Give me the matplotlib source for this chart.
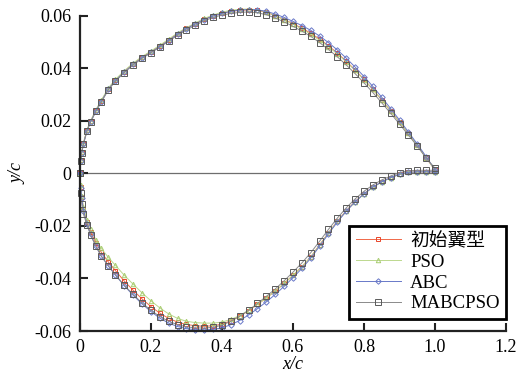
import matplotlib
matplotlib.use("Agg")
import matplotlib.pyplot as plt
import numpy as np

# 弦向站位 x/c
X = [0.000, 0.002, 0.005, 0.010, 0.020, 0.030, 0.045, 0.060, 0.080, 0.100,
     0.125, 0.150, 0.175, 0.200, 0.225, 0.250, 0.275, 0.300, 0.325, 0.350,
     0.375, 0.400, 0.425, 0.450, 0.475, 0.500, 0.525, 0.550, 0.575, 0.600,
     0.625, 0.650, 0.675, 0.700, 0.725, 0.750, 0.775, 0.800, 0.825, 0.850,
     0.875, 0.900, 0.925, 0.950, 0.975, 1.000]

# 上表面 y/c
UP_INIT = [0.0000, 0.0050, 0.0080, 0.0115, 0.0165, 0.0198, 0.0240, 0.0275, 0.0322, 0.0355,
           0.0388, 0.0417, 0.0442, 0.0463, 0.0485, 0.0508, 0.0532, 0.0552, 0.0570, 0.0587,
           0.0600, 0.0610, 0.0617, 0.0621, 0.0623, 0.0621, 0.0613, 0.0601, 0.0586, 0.0570,
           0.0553, 0.0534, 0.0511, 0.0486, 0.0458, 0.0427, 0.0394, 0.0358, 0.0320, 0.0280,
           0.0238, 0.0196, 0.0152, 0.0108, 0.0060, 0.0012]
UP_PSO = [0.0000, 0.0052, 0.0082, 0.0117, 0.0167, 0.0200, 0.0243, 0.0278, 0.0325, 0.0358,
          0.0391, 0.0420, 0.0445, 0.0466, 0.0488, 0.0511, 0.0535, 0.0555, 0.0573, 0.0590,
          0.0603, 0.0614, 0.0621, 0.0625, 0.0626, 0.0623, 0.0614, 0.0601, 0.0585, 0.0568,
          0.0550, 0.0530, 0.0507, 0.0482, 0.0455, 0.0425, 0.0392, 0.0357, 0.0320, 0.0280,
          0.0238, 0.0196, 0.0152, 0.0108, 0.0060, 0.0012]
UP_ABC = [0.0000, 0.0048, 0.0078, 0.0113, 0.0163, 0.0196, 0.0238, 0.0273, 0.0320, 0.0353,
          0.0386, 0.0415, 0.0440, 0.0461, 0.0483, 0.0506, 0.0530, 0.0551, 0.0569, 0.0586,
          0.0599, 0.0609, 0.0617, 0.0622, 0.0624, 0.0623, 0.0617, 0.0607, 0.0594, 0.0579,
          0.0563, 0.0545, 0.0523, 0.0498, 0.0470, 0.0439, 0.0405, 0.0369, 0.0331, 0.0290,
          0.0247, 0.0203, 0.0158, 0.0112, 0.0064, 0.0014]
UP_MABCPSO = [0.0000, 0.0048, 0.0078, 0.0112, 0.0162, 0.0195, 0.0236, 0.0271, 0.0318, 0.0351,
              0.0384, 0.0413, 0.0438, 0.0459, 0.0481, 0.0503, 0.0526, 0.0546, 0.0564, 0.0581,
              0.0594, 0.0603, 0.0609, 0.0613, 0.0615, 0.0612, 0.0604, 0.0592, 0.0577, 0.0560,
              0.0542, 0.0522, 0.0498, 0.0472, 0.0444, 0.0413, 0.0380, 0.0345, 0.0308, 0.0269,
              0.0229, 0.0188, 0.0146, 0.0104, 0.0058, 0.0020]

# 下表面 y/c
LO_INIT = [0.0000, -0.0050, -0.0090, -0.0135, -0.0185, -0.0222, -0.0265, -0.0300, -0.0337, -0.0370,
           -0.0410, -0.0445, -0.0478, -0.0507, -0.0532, -0.0552, -0.0566, -0.0575, -0.0580, -0.0582,
           -0.0580, -0.0574, -0.0561, -0.0544, -0.0523, -0.0499, -0.0474, -0.0448, -0.0419, -0.0388,
           -0.0355, -0.0318, -0.0272, -0.0226, -0.0182, -0.0142, -0.0107, -0.0077, -0.0052, -0.0032,
           -0.0016, -0.0003, 0.0004, 0.0006, 0.0006, 0.0006]
LO_PSO = [0.0000, -0.0045, -0.0085, -0.0128, -0.0178, -0.0213, -0.0253, -0.0285, -0.0320, -0.0350,
          -0.0388, -0.0422, -0.0455, -0.0485, -0.0512, -0.0535, -0.0552, -0.0563, -0.0568, -0.0570,
          -0.0570, -0.0566, -0.0556, -0.0541, -0.0521, -0.0498, -0.0474, -0.0448, -0.0419, -0.0388,
          -0.0355, -0.0318, -0.0273, -0.0227, -0.0183, -0.0143, -0.0108, -0.0078, -0.0053, -0.0033,
          -0.0017, -0.0004, 0.0004, 0.0006, 0.0006, 0.0006]
LO_ABC = [0.0000, -0.0055, -0.0095, -0.0142, -0.0193, -0.0232, -0.0277, -0.0314, -0.0352, -0.0387,
          -0.0428, -0.0464, -0.0497, -0.0526, -0.0551, -0.0570, -0.0583, -0.0591, -0.0595, -0.0596,
          -0.0594, -0.0588, -0.0576, -0.0560, -0.0539, -0.0515, -0.0489, -0.0461, -0.0430, -0.0397,
          -0.0362, -0.0323, -0.0277, -0.0230, -0.0185, -0.0144, -0.0108, -0.0078, -0.0052, -0.0032,
          -0.0016, -0.0003, 0.0004, 0.0006, 0.0006, 0.0006]
LO_MABCPSO = [0.0000, -0.0075, -0.0115, -0.0155, -0.0197, -0.0234, -0.0278, -0.0315, -0.0352, -0.0386,
              -0.0426, -0.0461, -0.0493, -0.0521, -0.0545, -0.0563, -0.0576, -0.0584, -0.0588, -0.0589,
              -0.0586, -0.0578, -0.0563, -0.0544, -0.0521, -0.0495, -0.0468, -0.0440, -0.0409, -0.0376,
              -0.0341, -0.0302, -0.0258, -0.0213, -0.0170, -0.0131, -0.0097, -0.0068, -0.0044, -0.0025,
              -0.0010, 0.0003, 0.0010, 0.0012, 0.0012, 0.0012]

LABELS = ["初始翼型", "PSO", "ABC", "MABCPSO"]
X_TICKS = [0, 0.2, 0.4, 0.6, 0.8, 1.0, 1.2]
X_TICKLABELS = ["0", "0.2", "0.4", "0.6", "0.8", "1.0", "1.2"]
Y_TICKS = [0.06, 0.04, 0.02, 0, -0.02, -0.04, -0.06]
Y_TICKLABELS = ["0.06", "0.04", "0.02", "0", "-0.02", "-0.04", "-0.06"]

plt.rcParams["font.family"] = ["Liberation Serif", "Noto Sans CJK SC"]

fig = plt.figure(figsize=(5.19, 3.77), dpi=100)
ax = fig.add_axes([0.154, 0.122, 0.821, 0.836])

x = np.array(X)
ax.plot([0, 1.0], [0, 0], color="#6e6e6e", lw=0.9, zorder=1)

styles = [
    dict(color="#f06848", marker="s", ms=2.8, mec="#e8452a"),
    dict(color="#bcd88e", marker="^", ms=3.2, mec="#a8cc70"),
    dict(color="#6878c8", marker="D", ms=2.8, mec="#6878c8"),
    dict(color="#8a8a8a", marker="s", ms=4.5, mec="#5a5a5a"),
]
series = [(UP_INIT, LO_INIT), (UP_PSO, LO_PSO), (UP_ABC, LO_ABC), (UP_MABCPSO, LO_MABCPSO)]

handles = []
for (up, lo), st, lbl in zip(series, styles, LABELS):
    for k, ys in enumerate((up, lo)):
        h, = ax.plot(x, np.array(ys), color=st["color"], lw=0.7, marker=st["marker"],
                     ms=st["ms"], mfc="none", mec=st["mec"], mew=0.7,
                     label=lbl if k == 0 else None, clip_on=False, zorder=2)
        if k == 0:
            handles.append(h)

ax.set_xlim(0, 1.2)
ax.set_ylim(-0.06, 0.06)
ax.set_xticks(X_TICKS)
ax.set_xticklabels(X_TICKLABELS)
ax.set_yticks(Y_TICKS)
ax.set_yticklabels(Y_TICKLABELS)
ax.tick_params(direction="in", length=6, width=1.5, labelsize=13, color="#222222")
ax.tick_params(axis="x", pad=6)
ax.tick_params(axis="y", pad=6)

for side in ("top", "right"):
    ax.spines[side].set_visible(False)
for side in ("left", "bottom"):
    ax.spines[side].set_linewidth(1.6)
    ax.spines[side].set_color("#222222")

ax.set_xlabel("x/c", fontsize=13, style="italic", labelpad=0)
ax.set_ylabel("y/c", fontsize=13, style="italic", labelpad=6)

leg = ax.legend(handles=handles, loc="lower right", bbox_to_anchor=(1.0, 0.038),
                borderaxespad=0, fontsize=13.5, frameon=True, fancybox=False, numpoints=1,
                framealpha=1, handlelength=2.4, borderpad=0.35, labelspacing=0.2,
                handletextpad=0.5)
leg.get_frame().set_edgecolor("black")
leg.get_frame().set_linewidth(2.0)

fig.savefig("out.png", dpi=100)
